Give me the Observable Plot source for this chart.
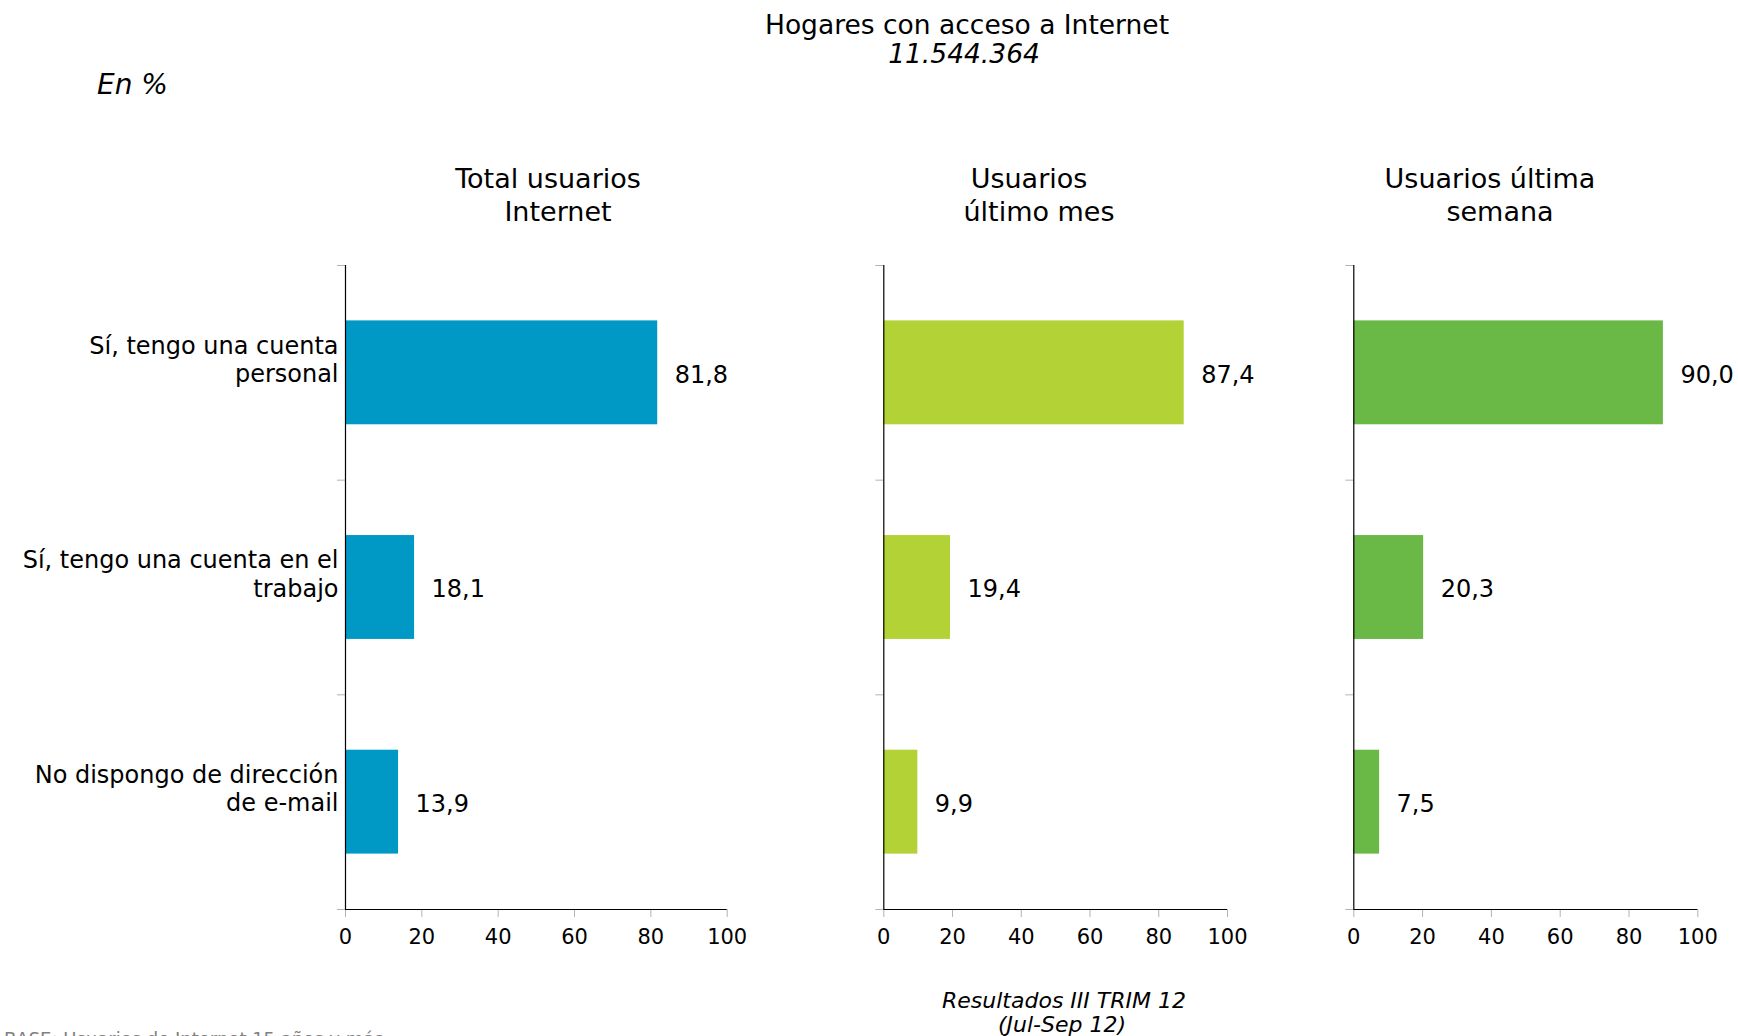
<!DOCTYPE html>
<html>
<head>
<meta charset="utf-8">
<script src="https://cdn.jsdelivr.net/npm/d3@7"></script>
<script src="https://cdn.jsdelivr.net/npm/@observablehq/plot@0.6"></script>
<style>
  html, body { margin: 0; padding: 0; background: #fff; overflow: hidden; }
  #root { position: relative; width: 1738px; height: 1036px; font-family: "DejaVu Sans", Verdana, sans-serif; }
  #root svg { position: absolute; top: 0; }
</style>
</head>
<body>
<div id="root"></div>
<script>
// ---- data ----
const categories = [
  "Sí, tengo una cuenta\npersonal",
  "Sí, tengo una cuenta en el\ntrabajo",
  "No dispongo de dirección\nde e-mail"
];
const totalUsuarios = [81.8, 18.1, 13.9];
const usuariosMes = [87.4, 19.4, 9.9];
const usuariosSemana = [90.0, 20.3, 7.5];
const xTicks = [0, 20, 40, 60, 80, 100];
const panelTitles = [
  ["Total usuarios", "Internet"],
  ["Usuarios", "último mes"],
  ["Usuarios última", "semana"]
];
const mainTitle = "Hogares con acceso a Internet";
const mainSubtitle = "11.544.364";
const unitLabel = "En %";
const captionLines = ["Resultados III TRIM 12", "(Jul-Sep 12)"];
const baseNote = "BASE: Usuarios de Internet 15 años y más";

// ---- layout ----
const root = document.getElementById("root");
const FONT = "DejaVu Sans";
const fmt = v => v.toFixed(1).replace(".", ",");
const idx = d3.range(categories.length);

const panels = [
  {values: totalUsuarios, color: "#0099C5", left: 0, marginLeft: 345, frameW: 381.7, marginRight: 60, labels: true},
  {values: usuariosMes, color: "#B2D236", left: 800, marginLeft: 83.3, frameW: 343.7, marginRight: 60, labels: false},
  {values: usuariosSemana, color: "#6AB947", left: 1280, marginLeft: 73.3, frameW: 344, marginRight: 40.7, labels: false}
];

const H = 960;
for (const p of panels) {
  const marks = [
    Plot.rectX(idx, {
      x1: 0, x2: i => p.values[i],
      y1: i => i + 0.258, y2: i => i + 0.742,
      fill: p.color
    }),
    Plot.axisY({ticks: [0, 1, 2, 3], tickSize: 8, stroke: "#b3b3b3", fill: "none", label: null}),
    Plot.axisX({ticks: xTicks, tickSize: 8, tickPadding: 12, stroke: "#b3b3b3", fill: "black", fontSize: 21, label: null, anchor: "bottom"}),
    Plot.ruleX([0], {y1: 0, y2: 3, stroke: "black", strokeWidth: 1.2}),
    Plot.ruleY([3], {x1: 0, x2: 100, stroke: "black", strokeWidth: 1.2}),
    Plot.text(idx, {
      x: i => p.values[i], y: i => i + 0.5, text: i => fmt(p.values[i]),
      dx: 17, dy: 2, textAnchor: "start", fontSize: 24, fill: "black"
    })
  ];
  if (p.labels) {
    marks.push(Plot.text(idx, {
      x: 0, y: i => i + 0.5, text: i => categories[i],
      textAnchor: "end", dx: -7, dy: -14, fontSize: 24, lineHeight: 1.17, fill: "black"
    }));
  }
  const svg = Plot.plot({
    width: p.marginLeft + p.frameW + p.marginRight,
    height: H,
    marginLeft: p.marginLeft,
    marginRight: p.marginRight,
    marginTop: 265,
    marginBottom: H - 909,
    style: {fontFamily: FONT, fontSize: "21px", color: "black", background: "transparent", overflow: "visible"},
    x: {domain: [0, 100]},
    y: {domain: [0, 3], reverse: true},
    marks
  });
  svg.style.left = p.left + "px";
  root.appendChild(svg);
}

// ---- titles and notes ----
const ov = d3.select(root).append("svg")
  .attr("width", 1738).attr("height", 1036)
  .style("left", "0px").style("pointer-events", "none")
  .style("font-family", FONT);

function txt(s, x, y, size, opts = {}) {
  ov.append("text").attr("x", x).attr("y", y)
    .attr("text-anchor", opts.anchor || "middle")
    .attr("font-size", size)
    .attr("font-style", opts.italic ? "italic" : "normal")
    .attr("fill", opts.fill || "black")
    .text(s);
}

txt(mainTitle, 967, 34, 26.5);
txt(mainSubtitle, 964, 63, 26.5, {italic: true});
txt(unitLabel, 97, 94, 28, {anchor: "start", italic: true});

const titleCenters = [[548, 558], [1029, 1039], [1490, 1500]];
panelTitles.forEach((lines, k) => {
  txt(lines[0], titleCenters[k][0], 188, 27);
  txt(lines[1], titleCenters[k][1], 221, 27);
});

txt(captionLines[0], 1064, 1008, 22, {italic: true});
txt(captionLines[1], 1062, 1032, 22, {italic: true});
txt(baseNote, 4, 1045, 18, {anchor: "start", fill: "#808080"});
</script>
</body>
</html>
